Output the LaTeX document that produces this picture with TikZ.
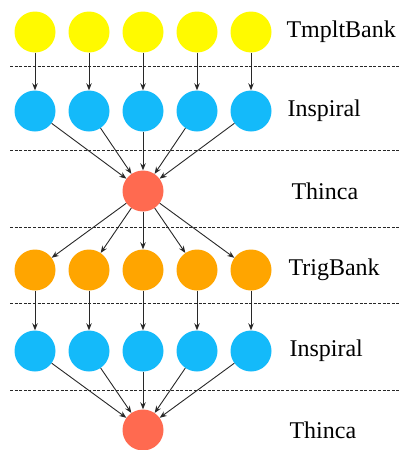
\documentclass[tikz,border=0pt]{standalone}
\usepackage{fontspec}
\setmainfont{Liberation Serif}
\usetikzlibrary{arrows.meta}
\definecolor{cyellow}{RGB}{255,250,0}
\definecolor{cblue}{RGB}{20,186,250}
\definecolor{cred}{RGB}{255,106,80}
\definecolor{corange}{RGB}{255,165,0}
\definecolor{edgegray}{RGB}{40,40,40}
\begin{document}
\begin{tikzpicture}[x=1pt,y=-1pt,
  job/.style={circle,minimum size=41pt,inner sep=0pt,draw=none},
  tmplt/.style={job,fill=cyellow},
  insp/.style={job,fill=cblue},
  thin/.style={job,fill=cred},
  trig/.style={job,fill=corange},
  flow/.style={draw=edgegray,line width=0.9pt,-{Stealth[length=7pt,width=5.5pt]}},
  sep/.style={draw=edgegray,line width=0.9pt,dash pattern=on 3pt off 1.6pt},
  lbl/.style={anchor=west,font=\fontsize{24}{28}\selectfont,text=black}]
\useasboundingbox (0,0) rectangle (399,450);

% layer separators
\foreach \y in {66,150,227,303,390}
  \draw[sep] (10,\y) -- (399,\y);

% job rows
\foreach \i/\x in {1/35,2/89,3/143,4/197,5/251} {
  \node[tmplt] (t\i) at (\x,32) {};
  \node[insp]  (a\i) at (\x,111) {};
  \node[trig]  (g\i) at (\x,270) {};
  \node[insp]  (b\i) at (\x,351) {};
}
\node[thin] (c1) at (143,191) {};
\node[thin] (c2) at (143,430) {};

% dependencies
\foreach \i in {1,...,5} {
  \draw[flow] (t\i) -- (a\i);
  \draw[flow] (a\i) -- (c1);
  \draw[flow] (c1) -- (g\i);
  \draw[flow] (g\i) -- (b\i);
  \draw[flow] (b\i) -- (c2);
}

% layer names
\node[lbl] (l1) at (283,32) {TmpltBank};
\node[lbl] (l2) at (284,111) {Inspiral};
\node[lbl] (l3) at (288,191) {Thinca};
\node[lbl] (l4) at (285,270) {TrigBank};
\node[lbl] (l5) at (286,351) {Inspiral};
\node[lbl] (l6) at (286,430) {Thinca};
\end{tikzpicture}
\end{document}
